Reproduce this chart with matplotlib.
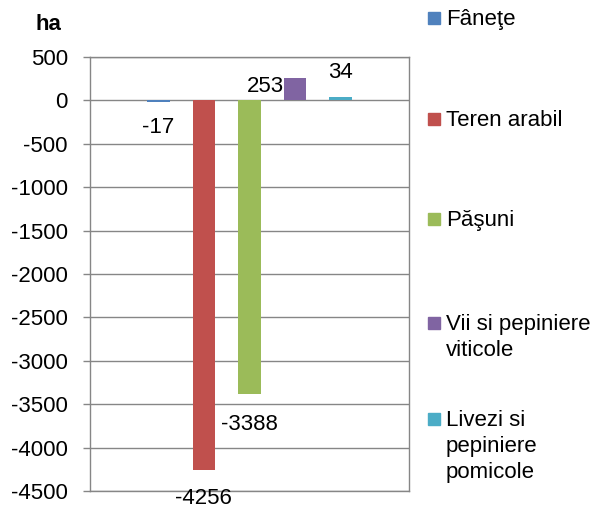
#!/usr/bin/env python3

import matplotlib

matplotlib.use("Agg")
import matplotlib.pyplot as plt
from matplotlib.patches import Rectangle

plt.rcParams["font.family"] = ["Liberation Sans", "DejaVu Sans"]

# Date
categorii = ["Fâneţe", "Teren arabil", "Păşuni", "Vii si pepiniere\nviticole",
             "Livezi si\npepiniere\npomicole"]
valori = [-17, -4256, -3388, 253, 34]
culori = ["#4F81BD", "#C0504D", "#9BBB59", "#8064A2", "#4BACC6"]
yticks = list(range(-4500, 501, 500))

# decalaje etichete (pixeli) fata de capatul barei
decalaje = [(0, -26), (0, -29), (0, -30), (-30, -8), (0, 25)]

gri = "#868686"
fs = 16

fig = plt.figure(figsize=(6.03, 5.08), dpi=100)
ax = fig.add_axes([90 / 603, 17 / 508, 319 / 603, 434 / 508])

poz = list(range(len(valori)))
ax.bar(poz, valori, width=0.5, color=culori, zorder=3)

for i, v in enumerate(valori):
    dx, dy = decalaje[i]
    ax.annotate(
        str(v),
        xy=(i, v),
        xytext=(dx * 0.72, dy * 0.72),
        textcoords="offset points",
        ha="center",
        va="center",
        fontsize=fs,
        color="black",
    )

ax.set_xlim(-1.5, 5.5)
ax.set_ylim(-4500, 500)
ax.set_yticks(yticks)
ax.set_yticklabels([str(t) for t in yticks], fontsize=fs)
ax.set_xticks([])
ax.yaxis.grid(True, color=gri, linewidth=1, zorder=0)
ax.tick_params(axis="y", direction="out", length=5, width=1, color=gri, pad=11)
for s in ax.spines.values():
    s.set_color(gri)
    s.set_linewidth(1)

fig.text(48 / 603, 1 - 25 / 508, "ha", fontsize=fs, fontweight="bold",
         ha="center", va="center")

# Legenda
leg_y = [18, 119, 219, 323, 419]
for i, nume in enumerate(categorii):
    y = leg_y[i]
    fig.patches.append(
        Rectangle((428 / 603, 1 - (y + 6) / 508), 12 / 603, 12 / 508,
                  transform=fig.transFigure, color=culori[i])
    )
    fig.text(446 / 603, 1 - (y - 9) / 508, nume, fontsize=fs, ha="left",
             va="top", linespacing=1.3)

fig.savefig("out.png", dpi=100)
